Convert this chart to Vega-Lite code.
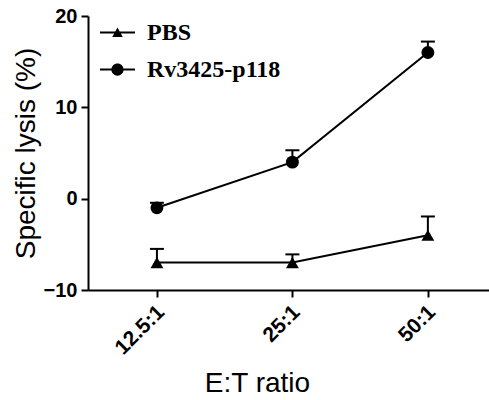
{
  "$schema": "https://vega.github.io/schema/vega-lite/v6.json",
  "width": 401,
  "height": 274,
  "autosize": {"type": "none"},
  "padding": {"left": 88, "top": 16, "right": 0, "bottom": 110},
  "background": "white",
  "config": {
    "view": {"stroke": null},
    "axis": {
      "domainColor": "black", "domainWidth": 2, "tickColor": "black", "tickWidth": 2, "tickSize": 7,
      "labelColor": "black", "titleColor": "black", "labelFont": "Liberation Sans", "titleFont": "Liberation Sans",
      "labelFontWeight": "bold", "titleFontWeight": "normal", "grid": false
    }
  },
  "data": {
    "values": [
      {"ratio": "12.5:1", "group": "PBS", "mean": -7, "upper": -5.5},
      {"ratio": "25:1", "group": "PBS", "mean": -7, "upper": -6.1},
      {"ratio": "50:1", "group": "PBS", "mean": -4, "upper": -1.95},
      {"ratio": "12.5:1", "group": "Rv3425-p118", "mean": -1, "upper": -0.45},
      {"ratio": "25:1", "group": "Rv3425-p118", "mean": 4, "upper": 5.3},
      {"ratio": "50:1", "group": "Rv3425-p118", "mean": 16, "upper": 17.2}
    ]
  },
  "encoding": {
    "x": {
      "field": "ratio", "type": "ordinal", "sort": ["12.5:1", "25:1", "50:1"],
      "scale": {"type": "point", "padding": 0.48, "align": 0.53},
      "axis": {"title": "E:T ratio", "labelAngle": -45, "labelFontSize": 21, "labelOffset": -4, "titleFontSize": 28, "labelPadding": 4, "titlePadding": 12, "titleX": 169}
    },
    "y": {
      "field": "mean", "type": "quantitative", "title": "Specific lysis (%)",
      "scale": {"domain": [-10, 20], "nice": false, "zero": false},
      "axis": {"values": [-10, 0, 10, 20], "labelFontSize": 20, "titleFontSize": 28, "labelPadding": 4, "titlePadding": 3}
    }
  },
  "resolve": {"scale": {"shape": "independent"}, "legend": {"shape": "independent"}},
  "layer": [
    {
      "mark": {"type": "rule", "strokeWidth": 2, "color": "black"},
      "encoding": {"y2": {"field": "upper"}}
    },
    {
      "mark": {"type": "tick", "thickness": 2, "size": 14, "color": "black", "opacity": 1},
      "encoding": {"y": {"field": "upper", "type": "quantitative", "title": "Specific lysis (%)"}}
    },
    {
      "mark": {"type": "line", "strokeWidth": 2, "color": "black"},
      "encoding": {"detail": {"field": "group", "type": "nominal"}}
    },
    {
      "mark": {"type": "point", "filled": true, "opacity": 1, "color": "black", "size": 165},
      "encoding": {
        "shape": {
          "field": "group", "type": "nominal",
          "scale": {"domain": ["PBS", "Rv3425-p118"], "range": ["triangle-up", "circle"]},
          "legend": null
        }
      }
    },
    {
      "transform": [{"filter": "false"}],
      "mark": {"type": "point", "filled": true, "opacity": 1, "color": "black"},
      "encoding": {
        "shape": {
          "field": "group", "type": "nominal",
          "scale": {"domain": ["PBS", "Rv3425-p118"], "range": ["M-1,-0.06H1V0.06H-1ZM0,-0.28L0.3,0.25L-0.3,0.25Z", "M-1,-0.06H1V0.06H-1ZM0.35,0A0.35,0.35 0 1,1 -0.35,0A0.35,0.35 0 1,1 0.35,0Z"]},
          "legend": {
            "title": null, "orient": "none", "legendX": 12, "legendY": -1,
            "labelFont": "Liberation Serif", "labelFontWeight": "bold", "labelFontSize": 24, "labelColor": "black",
            "symbolSize": 1225, "labelOffset": 12, "rowPadding": 7,
            "symbolFillColor": "black", "symbolStrokeWidth": 0, "symbolOpacity": 1
          }
        }
      }
    }
  ]
}
